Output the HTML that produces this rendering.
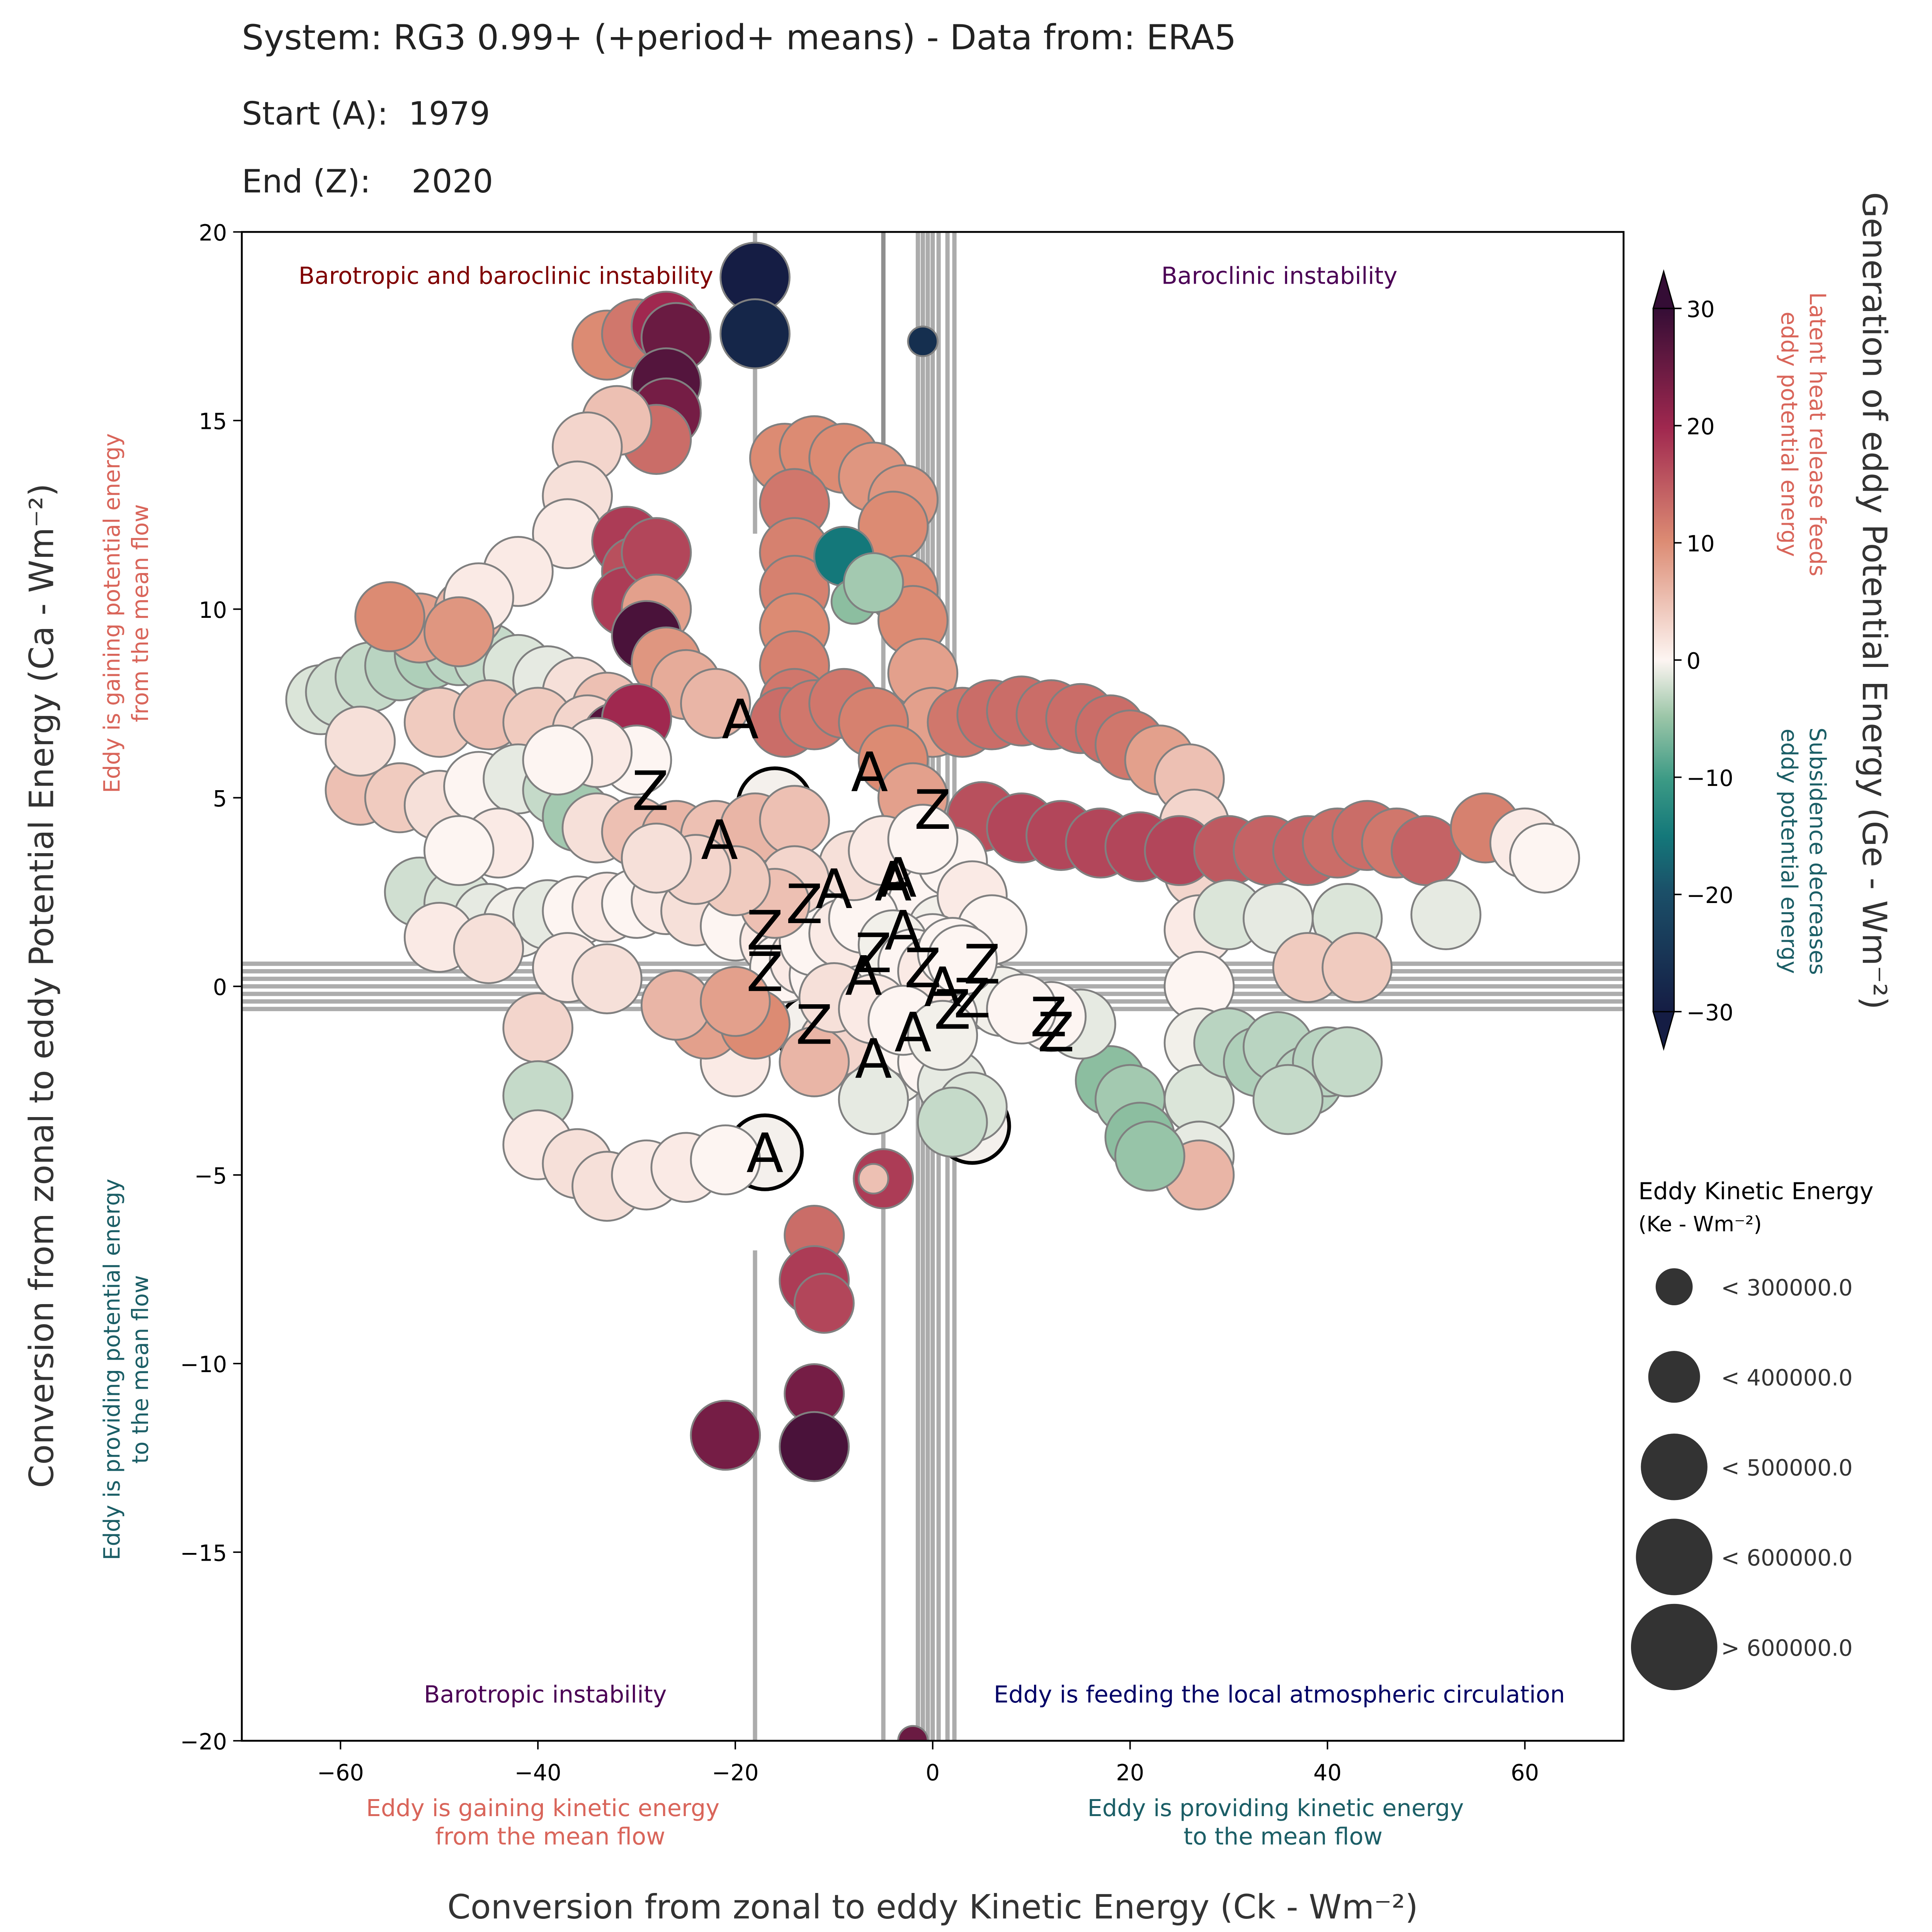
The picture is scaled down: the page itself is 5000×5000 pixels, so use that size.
<!DOCTYPE html>
<html><head><meta charset="utf-8">
<style>html,body{margin:0;padding:0;background:#fff}svg{display:block}text{font-family:"DejaVu Sans","Liberation Sans",sans-serif}</style>
</head><body>
<svg id="chart" width="5000" height="5000" viewBox="0 0 1566 1566" xmlns="http://www.w3.org/2000/svg">
<defs>
<linearGradient id="cbar" x1="0" y1="1" x2="0" y2="0">
<stop offset="0" stop-color="#151d44"/><stop offset="0.17" stop-color="#1b4f68"/><stop offset="0.25" stop-color="#14787a"/><stop offset="0.33" stop-color="#3c9a85"/><stop offset="0.42" stop-color="#9cc6a8"/><stop offset="0.5" stop-color="#fdf5f2"/><stop offset="0.67" stop-color="#dc8b73"/><stop offset="0.83" stop-color="#a0284f"/><stop offset="1" stop-color="#340d35"/>
</linearGradient>
<clipPath id="plotclip"><rect x="196" y="188" width="1120" height="1223"/></clipPath>
</defs>
<rect width="1566" height="1566" fill="#fff"/>
<g id="titles">
<text x="196" y="40" font-size="28" fill="#222">System: RG3 0.99+ (+period+ means) - Data from: ERA5</text>
<text x="196" y="101" font-size="26" fill="#222" xml:space="preserve">Start (A):  1979</text>
<text x="196" y="156" font-size="26" fill="#222" xml:space="preserve">End (Z):    2020</text>
</g>
<g id="plot" clip-path="url(#plotclip)"></g>
<rect x="196" y="188" width="1120" height="1223" fill="none" stroke="#000" stroke-width="1.5"/>
<g id="axes"></g>
<g id="cbar-g"></g>
<g id="legend"></g>
</svg>
<script>
const ckValues=[-62,-60,-57,-54,-51,-48,-45,-42,-39,-36,-33,-52,-55,-47,-50,-45,-40,-35,
-58,-54,-50,-46,-42,-38,-36,-34,-30,-26,-22,-18,-14,
-52,-48,-45,-42,-39,-36,-33,-30,-27,-24,-20,-16,-50,-45,-40,-37,-33,
-40,-40,-36,-33,-29,-25,-21,-20,-23,-26,
-15,-12,-9,-6,-3,-4,-3,-2,-1,0,-14,-14,-14,-14,-14,-14,-15,-12,-9,-6,-4,-2,
-33,-30,-27,-26,-27,-27,-28,-32,-35,-36,-37,-31,-30,-31,-28,-28,-29,-27,-25,-22,-42,-46,-48,-32,-30,
-9,-8,-6,-18,-18,
3,6,9,12,15,18,20,23,26,26.5,27,27,27,27,27,27,27,
5,9,13,17,21,25,30,34,38,41,44,47,50,56,60,62,
30,35,42,52,38,43,
18,20,21,22,30,33,35,38,40,42,36,15,12,
-12,-12,-11,-12,-12,-21,-5,-6,
-15,-13,-11,-9,-7,-5,-3,-1,1,3,5,7,9,-8,-6,-4,-2,0,2,4,2,-6,-10,-12,-18,-20,-5,-3,-1,1,-8,-10,2,4,6,-6,-3,0,-2,1,
-12,-9,-7,-4,-2,0,2,-10,-6,-3,1,3,-8,-5,-1,-14,-16,-20,-24,-28,-44,-48,-58,-30,-34,-38,
-1,-2];
const caValues=[7.6,7.8,8.2,8.5,8.8,8.9,8.7,8.4,8.1,7.8,7.4,9.5,9.8,9.9,7,7.2,7,6.8,
5.2,5,4.8,5.3,5.5,5.2,4.5,4.2,4.1,4,4,4.2,4.4,
2.5,2.2,1.8,1.7,1.9,2,2.1,2.2,2.3,2,1.6,1.2,1.3,1,-1.1,0.5,0.2,
-2.9,-4.2,-4.7,-5.3,-5,-4.8,-4.6,-2,-1,-0.5,
14,14.2,14,13.5,12.9,12.2,10.5,9.7,8.3,7,12.8,11.5,10.5,9.5,8.5,7.5,7,7.2,7.5,7,6,5,
17,17.3,17.5,17.2,16,15.2,14.5,15,14.3,13,12,11.8,11,10.2,11.5,10,9.3,8.6,8,7.5,11,10.3,9.4,6.6,7.1,
11.4,10.2,10.7,18.8,17.3,
7,7.2,7.3,7.2,7.1,6.8,6.4,6,5.5,4.3,3,1.5,0,-1.5,-3,-4.5,-5,
4.5,4.2,4,3.8,3.7,3.6,3.6,3.6,3.6,3.8,4,3.8,3.6,4.2,3.8,3.4,
1.9,1.8,1.8,1.9,0.5,0.5,
-2.5,-3,-4,-4.5,-1.5,-2,-1.6,-2.5,-2,-2,-3,-1,-0.8,
-6.6,-7.8,-8.4,-10.8,-12.2,-11.9,-5.1,-5.1,
0.5,0.7,0.3,0.2,0.5,0.3,0.1,0,0.2,0.3,-0.2,-0.4,-0.6,-1.2,-1.8,-2.2,-1.5,-2,-2.6,-3.2,-3.6,-3,-1.5,-2,-1,-0.4,2.5,3,2.2,1.5,2,1.8,3.3,2.4,1.5,1,0.8,1,-0.5,-0.8,
1.2,1.4,1.8,1.1,0.6,0.4,0.9,-0.3,-0.6,-0.9,-1.3,0.7,3.2,3.6,3.9,2.8,2.2,2.8,3.1,3.4,3.8,3.6,6.5,6,6.2,6,
17.1,-20];
const geValues=[-3,-4,-5,-6,-7,-6,-5,-3,-2,2,5,8,10,6,4,5,4,3,
5,4,2,0,-2,-5,-8,2,5,6,5,6,5,
-4,-3,-2,-1,-2,0,1,0,1,2,0,1,1,2,3,1,2,
-5,1,2,2,1,1,0,1,8,6,
10,10,10,9,9,10,10,10,8,8,12,11,11,10,11,12,13,12,12,11,10,8,
10,12,20,25,27,24,13,5,3,2,1,18,16,18,17,8,28,9,7,6,1,1,9,27,20,
-20,-10,-8,-30,-29,
12,13,13,13,13,13,12,8,5,3,3,1,0,-1,-3,-2,6,
16,17,17,17,17,17,15,14,14,13,13,12,14,11,1,0,
-3,-2,-3,-2,4,4,
-10,-8,-10,-9,-6,-7,-6,-6,-6,-5,-5,-2,0,
13,18,17,24,28,24,18,5,
0,1,0,-1,0,1,0,-1,0,1,0,-1,0,1,0,-1,0,0,-2,-3,-5,-2,3,6,10,8,0,1,0,-1,1,0,0,1,0,0,-1,0,1,0,
0,1,0,-1,0,1,0,2,1,0,-1,0,2,1,0,3,5,4,3,2,1,0,2,0,1,0,
-28,25];
const keValues=[3,3,3,3,3,3,3,3,3,3,3,3,3,3,3,3,3,3,
3,3,3,3,3,3,3,3,3,3,3,3,3,
3,3,3,3,3,3,3,3,3,3,3,3,3,3,3,3,3,
3,3,3,3,3,3,3,3,3,3,
3,3,3,3,3,3,3,3,3,3,3,3,3,3,3,3,3,3,3,3,3,3,
3,3,3,3,3,3,3,3,3,3,3,3,3,3,3,3,3,3,3,3,3,3,3,3,3,
2,1,2,3,3,
3,3,3,3,3,3,3,3,3,3,3,3,3,3,3,3,3,
3,3,3,3,3,3,3,3,3,3,3,3,3,3,3,3,
3,3,3,3,3,3,
3,3,3,3,3,3,3,3,3,3,3,3,3,
2,3,2,2,3,3,2,0,
3,3,3,3,3,3,3,3,3,3,3,3,3,3,3,3,3,3,3,3,3,3,3,3,3,3,3,3,3,3,3,3,3,3,3,3,3,3,3,3,
3,3,3,3,3,3,3,3,3,3,3,3,3,3,3,3,3,3,3,3,3,3,3,3,3,3,
0,0];
const markText=["A","A","Z","Z","A","A","Z","Z","A","Z","A","Z","Z","Z","Z","A","Z","A","Z","A","A","Z","A","Z","A"];
const markCk=[-19.5,-6.4,0,-28.6,-21.6,-17,11.75,12.5,-10,-13,-4,-17,-17,-12,-6,-3,-1,1,2,-2,-6,4,-7,5,-3.5];
const markCa=[7.1,5.7,4.7,5.2,3.9,-4.4,-0.8,-1.2,2.6,2.2,2.8,1.5,0.4,-1,0.9,1.5,0.5,0,-0.6,-1.2,-1.9,-0.3,0.3,0.6,2.9];
const ringCk=[-17,4,-16,-12];
const ringCa=[-4.4,-3.7,4.8,-1.2];
const xTicks=[-60,-40,-20,0,20,40,60];
const yTicks=[-20,-15,-10,-5,0,5,10,15,20];
const cbTicks=[-30,-20,-10,0,10,20,30];
const legendLabels=["< 300000.0","< 400000.0","< 500000.0","< 600000.0","> 600000.0"];

const NS="http://www.w3.org/2000/svg";
const X0=196,X1=1316,Y0=188,Y1=1411;
function xs(v){return X0+(v+70)/140*(X1-X0);}
function ys(v){return Y1-(v+20)/40*(Y1-Y0);}
function mk(tag,attrs,parent){const e=document.createElementNS(NS,tag);for(const k in attrs)e.setAttribute(k,attrs[k]);parent.appendChild(e);return e;}
const stops=[[-30,[21,29,68]],[-20,[20,120,122]],[-10,[140,190,160]],[0,[253,245,242]],[10,[220,139,115]],[20,[160,40,79]],[30,[52,13,53]]];
function cmap(v){v=Math.max(-30,Math.min(30,v));for(let i=0;i<stops.length-1;i++){const a=stops[i],b=stops[i+1];if(v<=b[0]){const t=(v-a[0])/(b[0]-a[0]);const c=a[1].map((x,j)=>Math.round(x+(b[1][j]-x)*t));return "rgb("+c.join(",")+")";}}return "rgb(52,13,53)";}
const radii=[12,18,24,28,33];

const plot=document.getElementById('plot');
// gray guide lines (trajectory bundles)
const lines=[[-1.5,20,-1.5,-20],[-1,20,-1,-20],[0,20,0,-20],[0.6,20,0.6,-20],[1.5,20,1.5,-20],[2.2,20,2.2,-20],[-0.5,20,-0.5,-20],[-5,20,-5,-20],[-5,20,-5,10],[-18,-7,-18,-20],[-18,20,-18,12],
[-70,0,70,0],[-70,0.4,70,0.4],[-70,-0.4,70,-0.4],[-70,0.2,70,0.2],[-70,-0.2,70,-0.2],[-70,0.6,70,0.6],[-70,-0.6,70,-0.6]];
for(const l of lines){
const ln=mk('line',{x1:xs(l[0]),y1:ys(l[1]),x2:xs(l[2]),y2:ys(l[3]),stroke:'#808080','stroke-width':3.5,'stroke-opacity':0.65},plot);


}
for(let i=0;i<ringCk.length;i++){
const c=mk('circle',{cx:xs(ringCk[i]),cy:ys(ringCa[i]),r:30,fill:'#f4f0ec',stroke:'#000','stroke-width':3},plot);


}
for(let i=0;i<ckValues.length;i++){
const c=mk('circle',{cx:xs(ckValues[i]),cy:ys(caValues[i]),r:radii[keValues[i]],fill:cmap(geValues[i]),stroke:'#808080','stroke-width':1.5},plot);


}
for(let i=0;i<markText.length;i++){
const t=mk('text',{x:xs(markCk[i]),y:ys(markCa[i])+16,'font-size':44,'text-anchor':'middle',fill:'#000'},plot);
t.textContent=markText[i];


}
const ann=[[242,230,"Barotropic and baroclinic instability","#7f0000","start"],[1037,230,"Baroclinic instability","#4b0055","middle"],[442,1380,"Barotropic instability","#4b0055","middle"],[1037,1380,"Eddy is feeding the local atmospheric circulation","#000066","middle"]];
for(const a of ann){const t=mk('text',{x:a[0],y:a[1],'font-size':19,fill:a[3],'text-anchor':a[4]},plot);t.textContent=a[2];

}

const axes=document.getElementById('axes');
for(const v of xTicks){mk('line',{x1:xs(v),y1:Y1,x2:xs(v),y2:Y1+7,stroke:'#000','stroke-width':1.2},axes);
const t=mk('text',{x:xs(v),y:Y1+32,'font-size':18,'text-anchor':'middle',fill:'#000'},axes);t.textContent=v<0?"\u2212"+(-v):v;

}
for(const v of yTicks){mk('line',{x1:X0-7,y1:ys(v),x2:X0,y2:ys(v),stroke:'#000','stroke-width':1.2},axes);
const t=mk('text',{x:X0-12,y:ys(v)+7,'font-size':18,'text-anchor':'end',fill:'#000'},axes);t.textContent=v<0?"\u2212"+(-v):v;

}
function txt(p,x,y,s,size,fill,anchor,rot,name){const t=mk('text',{x:x,y:y,'font-size':size,fill:fill,'text-anchor':anchor||'middle'},p);if(rot)t.setAttribute('transform','rotate('+rot+' '+x+' '+y+')');t.textContent=s;return t;}
txt(axes,756,1555,"Conversion from zonal to eddy Kinetic Energy (Ck - Wm\u207B\u00B2)",27,'#333','middle',0,'x-axis-title');
txt(axes,440,1472,"Eddy is gaining kinetic energy",19,'#d9655a','middle',0,'x-left-note');
txt(axes,446,1495,"from the mean flow",19,'#d9655a','middle',0,'x-right-note');
txt(axes,1034,1472,"Eddy is providing kinetic energy",19,'#1b5e66','middle',0,'x-right-note');
txt(axes,1040,1495,"to the mean flow",19,'#1b5e66','middle',0,'x-right-note');
txt(axes,43,799,"Conversion from zonal to eddy Potential Energy (Ca - Wm\u207B\u00B2)",27,'#333','middle',-90,'y-axis-title');
txt(axes,97,497,"Eddy is gaining potential energy",18,'#d9655a','middle',-90,'y-top-note');
txt(axes,120,497,"from the mean flow",18,'#d9655a','middle',-90,'y-top-note');
txt(axes,97,1110,"Eddy is providing potential energy",18,'#1b5e66','middle',-90,'y-bottom-note');
txt(axes,120,1110,"to the mean flow",18,'#1b5e66','middle',-90,'y-bottom-note');

const cb=document.getElementById('cbar-g');
const cbx=1340,cbw=17,cbt=250,cbb=820;
function cby(v){return cbb-(v+30)/60*(cbb-cbt);}
mk('polygon',{points:`${cbx},${cbt} ${cbx+cbw/2},${cbt-30} ${cbx+cbw},${cbt}`,fill:'#340d35',stroke:'#000','stroke-width':1},cb);
mk('polygon',{points:`${cbx},${cbb} ${cbx+cbw/2},${cbb+30} ${cbx+cbw},${cbb}`,fill:'#151d44',stroke:'#000','stroke-width':1},cb);
const cr=mk('rect',{x:cbx,y:cbt,width:cbw,height:cbb-cbt,fill:'url(#cbar)',stroke:'#000','stroke-width':1},cb);


for(const v of cbTicks){mk('line',{x1:cbx+cbw,y1:cby(v),x2:cbx+cbw+6,y2:cby(v),stroke:'#000','stroke-width':1.2},cb);
const t=mk('text',{x:cbx+cbw+10,y:cby(v)+7,'font-size':18,fill:'#000'},cb);t.textContent=v<0?"\u2212"+(-v):v;

}
txt(cb,1510,487,"Generation of eddy Potential Energy (Ge - Wm\u207B\u00B2)",27,'#333','middle',90,'colorbar-title');
txt(cb,1467,352,"Latent heat release feeds",18,'#d9655a','middle',90,'colorbar-top-note');
txt(cb,1444,352,"eddy potential energy",18,'#d9655a','middle',90,'colorbar-top-note');
txt(cb,1467,690,"Subsidence decreases",18,'#1b5e66','middle',90,'colorbar-bottom-note');
txt(cb,1444,690,"eddy potential energy",18,'#1b5e66','middle',90,'colorbar-bottom-note');

const lg=document.getElementById('legend');
txt(lg,1328,972,"Eddy Kinetic Energy",19,'#000','start',0,'legend-title');
txt(lg,1328,998,"(Ke - Wm\u207B\u00B2)",17,'#000','start',0,'legend-subtitle');
const lr=[15,21,27,31,35];
for(let i=0;i<legendLabels.length;i++){const y=1043+i*73;
const c=mk('circle',{cx:1357,cy:y,r:lr[i],fill:'#333'},lg);


txt(lg,1395,y+7,legendLabels[i],18,'#333','start',0,'legend-entry-label');}
</script>
</body></html>
